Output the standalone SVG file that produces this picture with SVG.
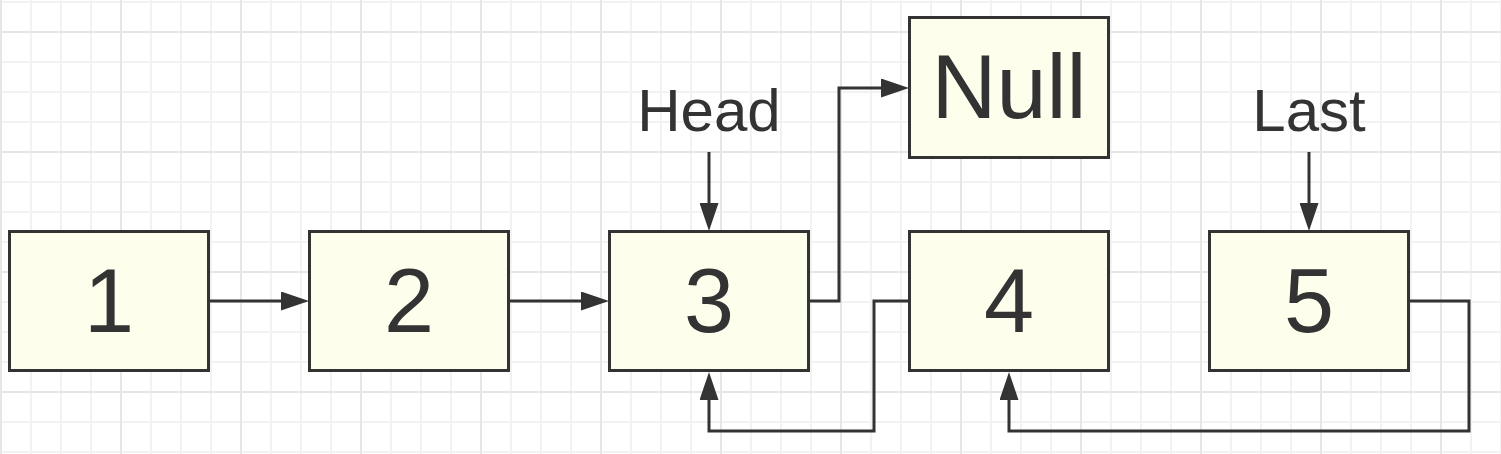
<svg xmlns="http://www.w3.org/2000/svg" width="1501" height="454" viewBox="0 0 1501 454">
<style>
.node rect{fill:#fefeec;stroke:#333;stroke-width:3}
.node text,.label{font-family:"Liberation Sans",Arial,sans-serif;fill:#333;text-anchor:middle}
.node text{font-size:90px}
.label{font-size:60px}
.conn path{fill:none;stroke:#333;stroke-width:3;marker-end:url(#arrow)}
</style>
<defs>
<pattern id="grid" patternUnits="userSpaceOnUse" x="0" y="1" width="120" height="120">
<rect width="120" height="120" fill="#fff"/>
<g fill="#f2f2f2">
<rect x="30" y="0" width="2" height="120"/><rect x="60" y="0" width="2" height="120"/><rect x="90" y="0" width="2" height="120"/>
<rect x="0" y="0" width="120" height="2"/><rect x="0" y="60" width="120" height="2"/><rect x="0" y="90" width="120" height="2"/>
</g>
<g fill="#e6e6e6">
<rect x="0" y="0" width="2" height="120"/>
<rect x="0" y="30" width="120" height="2"/>
</g>
</pattern>
<marker id="arrow" markerUnits="userSpaceOnUse" viewBox="0 0 28 19" markerWidth="28" markerHeight="19" refX="0" refY="9.5" orient="auto">
<path d="M0,0 L28,9.5 L0,19 Z" fill="#333"/>
</marker>
</defs>
<rect width="1501" height="454" fill="url(#grid)"/>
<g id="connectors" class="conn">
<path d="M209,301 H281"/>
<path d="M509,301 H581"/>
<path d="M809,301 H839 V88 H881"/>
<path d="M709,152 V203"/>
<path d="M1309,152 V203"/>
<path d="M909,301 H874 V431 H709 V400"/>
<path d="M1409,301 H1469 V431 H1009 V400"/>
</g>
<g id="node1" class="node"><rect x="9.5" y="231.5" width="199" height="139"/><text x="109" y="332">1</text></g>
<g id="node2" class="node"><rect x="309.5" y="231.5" width="199" height="139"/><text x="409" y="332">2</text></g>
<g id="node3" class="node"><rect x="609.5" y="231.5" width="199" height="139"/><text x="709" y="332">3</text></g>
<g id="node4" class="node"><rect x="909.5" y="231.5" width="199" height="139"/><text x="1009" y="332">4</text></g>
<g id="node5" class="node"><rect x="1209.5" y="231.5" width="199" height="139"/><text x="1309" y="332">5</text></g>
<g id="nodeNull" class="node"><rect x="909.5" y="17.5" width="199" height="140"/><text x="1009" y="118">Null</text></g>
<g id="head"><text class="label" x="709" y="131">Head</text></g>
<g id="last"><text class="label" x="1309" y="131">Last</text></g>
</svg>
